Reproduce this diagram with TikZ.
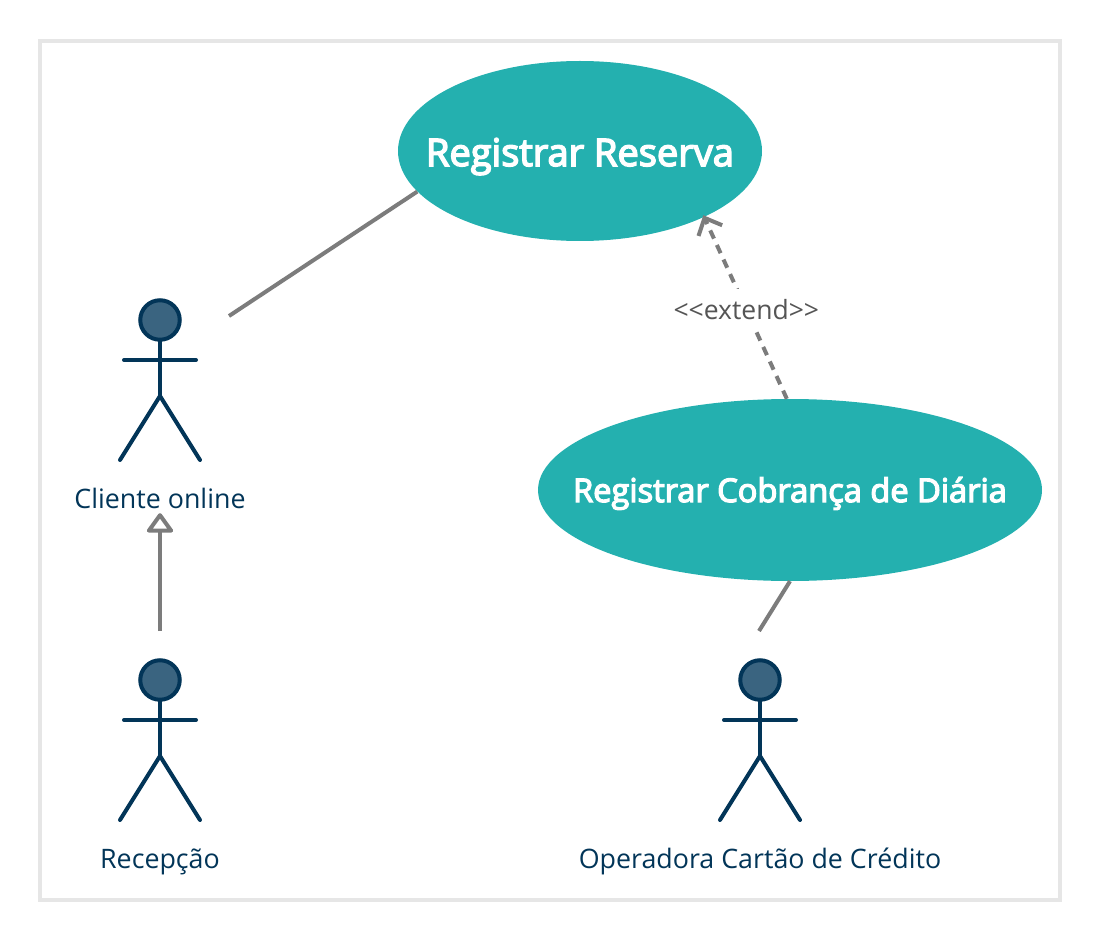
\documentclass[tikz,border=0pt]{standalone}
\usepackage{fontspec}
\setmainfont{Open Sans}
\newfontfamily\semifont[FakeBold=4]{Open Sans}
\usetikzlibrary{positioning}
\usetikzlibrary{arrows.meta}
\usetikzlibrary{shapes.geometric}
\definecolor{caseteal}{HTML}{24B0AF}
\definecolor{actornavy}{HTML}{023558}
\definecolor{headfill}{HTML}{3A6480}
\definecolor{linegray}{HTML}{7C7C7C}
\definecolor{framegray}{HTML}{E6E6E6}
\definecolor{textgray}{HTML}{555555}
\newcommand{\casetext}[2]{\makebox[0pt]{\smash{\raisebox{-#1}{#2}}}}

\begin{document}
\begin{tikzpicture} [x=1pt, y=-1pt,
        usecase/.style = {ellipse, fill=caseteal, text=white, inner sep=0pt},
        head/.style = {draw=actornavy, fill=headfill, circle, line width=4pt, minimum size=39.5pt, inner sep=0pt},
        body/.style = {draw=actornavy, line width=4pt, line cap=round},
        actorname/.style = {text=actornavy, font=\fontsize{26.8}{26.8}\selectfont, text height=19pt, text depth=4.5pt, inner sep=2pt},
        link/.style = {draw=linegray, line width=4pt}]
        \useasboundingbox (0,0) rectangle (1100,941);
        \draw[framegray, line width=4pt] (40,41) rectangle (1060,900);

        %Casos de uso
        \node[usecase, minimum width=364pt, minimum height=180pt, font=\fontsize{38}{38}\semifont] (reserva) at (580,151) {\casetext{15pt}{Registrar Reserva}};
        \node[usecase, minimum width=504pt, minimum height=182pt, font=\fontsize{32.6}{32.6}\semifont] (cobranca) at (790,490) {\casetext{12pt}{Registrar Cobrança de Diária}};

        %Atores
        \foreach \a/\x/\y in {cliente/160/320, recepcao/160/680, operadora/760/680} {
            \node[head] (\a Head) at (\x,\y) {};
            \coordinate (\a Hip) at (\x,\y+76);
            \draw[body] (\a Head) -- (\a Hip);
            \draw[body] (\x-36,\y+40) -- (\x+36,\y+40);
            \draw[body] (\x-40,\y+140) -- (\a Hip) -- (\x+40,\y+140);
        }
        \node[actorname] (clienteName) [below = 145.5pt of clienteHead] {Cliente online};
        \node[actorname] (recepcaoName) [below = 145.5pt of recepcaoHead] {Recepção};
        \node[actorname] (operadoraName) [below = 145.5pt of operadoraHead] {Operadora Cartão de Crédito};

        %Pontas livres
        \coordinate (clienteEnd) at (229,316);
        \coordinate (recepcaoTop) at (160,631);
        \coordinate (operadoraTop) at (759,631);

        %Ligacoes
        \draw[link] (reserva.194.5) -- (clienteEnd);
        \draw[link] (cobranca.south) -- (operadoraTop);
        \draw[link, shorten >=-2pt, -{Triangle[open, length=21pt, width=29pt, fill=white, round]}] (recepcaoTop) -- (clienteName.south);
        \draw[link, shorten >=-2pt, dash pattern=on 9pt off 7pt, -{Straight Barb[length=14pt, width=26pt]}] (cobranca.92) -- (reserva.-28.4) node[pos=0.49, fill=white, text=textgray, font=\fontsize{26.5}{26.5}\selectfont, inner xsep=7pt, inner ysep=11pt] (extendLabel) {{<}{<}extend{>}{>}};
    \end{tikzpicture}
\end{document}
